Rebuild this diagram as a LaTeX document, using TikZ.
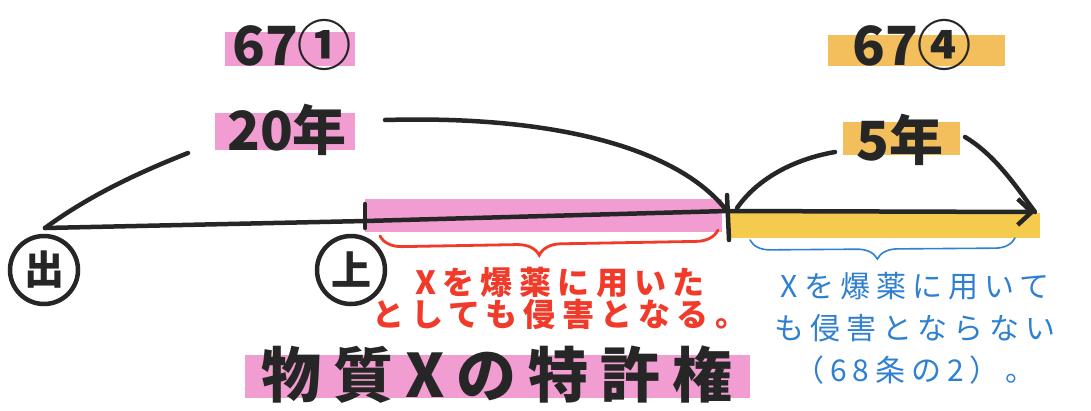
\documentclass[tikz,border=0pt]{standalone}
\usepackage{fontspec}
\newfontfamily\cjk{Noto Sans CJK JP}
\newfontfamily\cjkw[LetterSpace=20]{Noto Sans CJK JP}
\usetikzlibrary{arrows.meta,decorations.pathreplacing}
\definecolor{pinkhl}{HTML}{F08CCB}
\definecolor{orangehl}{HTML}{F0B440}
\definecolor{yellowhl}{HTML}{F5C63A}
\definecolor{redpen}{HTML}{F03A2A}
\definecolor{bluepen}{HTML}{2F80D0}
\definecolor{ink}{HTML}{262626}
\tikzset{
  inkline/.style={draw=ink, line width=4.5pt, line cap=round},
  hlpink/.style={fill=pinkhl, opacity=0.85},
  hlorange/.style={fill=orangehl, opacity=0.85},
  hlyellow/.style={fill=yellowhl, opacity=0.9},
  bigtxt/.style={text=ink, font=\cjk\bfseries\fontsize{54}{56}\selectfont, inner sep=0pt},
  circmark/.style={draw=ink, line width=4.5pt, circle, text=ink, font=\cjk\bfseries\fontsize{40}{40}\selectfont, minimum size=68pt, inner sep=0pt},
}
\begin{document}
\begin{tikzpicture}[x=1pt,y=1pt]
\useasboundingbox[fill=white] (0,0) rectangle (1091,-410);
% highlights
\fill[hlpink] (225,-32) rectangle (355,-66);
\fill[hlpink] (215,-113) rectangle (355,-150);
\fill[hlpink] (365,-199) rectangle (722,-232);
\fill[hlpink] (245,-355) rectangle (750,-398);
\fill[hlorange] (828,-35) rectangle (1005,-66);
\fill[hlorange] (843,-122) rectangle (960,-155);
\fill[hlyellow] (730,-213) rectangle (1040,-238);
% key points
\coordinate (O) at (45,-228);
\coordinate (A) at (365,-221);
\coordinate (B) at (727,-211);
\coordinate (E) at (1035,-212);
% labels
\node[bigtxt] (art1) at (292,-45) {67①};
\node[bigtxt] (art4) at (912,-45) {67④};
\node[bigtxt] (y20) at (287,-130) {20年};
\node[bigtxt] (y5) at (900,-140) {5年};
% main line
\draw[inkline, -{Straight Barb[length=14pt,width=26pt,line width=4.5pt]}] (O) -- (A) -- (B) -- (E);
\draw[inkline] (365,-204) -- (365,-228);
\draw[inkline] (727,-195) -- (729,-240);
% arcs
\draw[inkline] (O) .. controls (90,-195) and (140,-172) .. (188,-153);
\draw[inkline] (385,-120) .. controls (560,-115) and (680,-150) .. (B);
\draw[inkline] (737,-208) .. controls (760,-175) and (800,-158) .. (835,-152);
\draw[inkline] (965,-137) .. controls (995,-155) and (1015,-185) .. (E);
% circled marks
\node[circmark] (de) at (44,-270) {出};
\node[circmark] (ue) at (351,-270) {上};
% braces
\draw[redpen, line width=2.8pt, line cap=round, decorate, decoration={brace, mirror, amplitude=22pt, aspect=0.47}] (380,-236) -- (718,-230);
\draw[bluepen, line width=1.6pt, line cap=round, decorate, decoration={brace, mirror, amplitude=20pt, aspect=0.48}] (750,-240) -- (1015,-238);
% texts
\node[text=redpen, font=\cjkw\bfseries\fontsize{32}{32}\selectfont, align=center, inner sep=0pt] (red) at (560,-298) {Xを爆薬に用いた\\としても侵害となる。};
\node[text=bluepen, font=\cjkw\fontsize{30}{42}\selectfont, align=center, inner sep=0pt] (blue) at (915,-328) {Xを爆薬に用いて\\も侵害とならない\\（68条の2）。};
\node[text=ink, font=\cjkw\bfseries\fontsize{60}{60}\selectfont, inner sep=0pt] (title) at (497,-375) {物質Xの特許権};
\end{tikzpicture}
\end{document}
